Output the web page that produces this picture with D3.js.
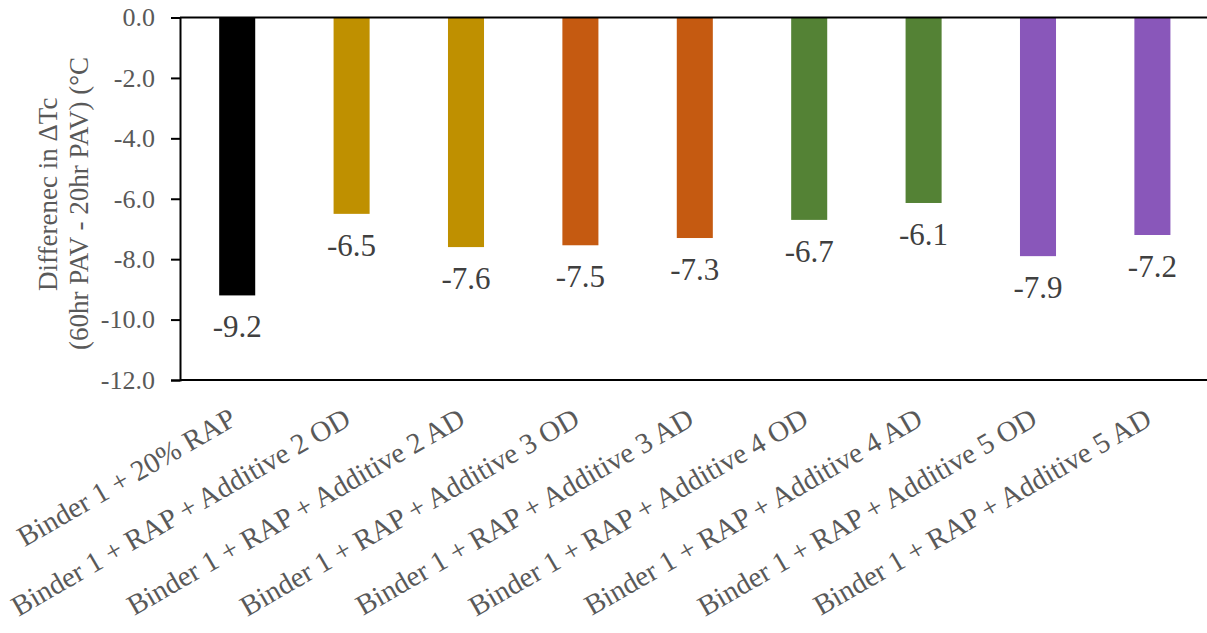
<!DOCTYPE html>
<html>
<head>
<meta charset="utf-8">
<script src="https://cdn.jsdelivr.net/npm/d3@7"></script>
<style>
  html, body { margin: 0; padding: 0; background: #fff; }
  svg { display: block; font-family: "Liberation Serif", "Times New Roman", serif; }
</style>
</head>
<body>
<svg id="chart" width="1207" height="633"></svg>
<script>
const categories = [
  "Binder 1 + 20% RAP",
  "Binder 1 + RAP + Additive 2 OD",
  "Binder 1 + RAP + Additive 2 AD",
  "Binder 1 + RAP + Additive 3 OD",
  "Binder 1 + RAP + Additive 3 AD",
  "Binder 1 + RAP + Additive 4 OD",
  "Binder 1 + RAP + Additive 4 AD",
  "Binder 1 + RAP + Additive 5 OD",
  "Binder 1 + RAP + Additive 5 AD"
];
const values = [-9.2, -6.5, -7.6, -7.54, -7.3, -6.7, -6.14, -7.9, -7.2];
const barColors = ["#000000", "#BF9000", "#BF9000", "#C55A11", "#C55A11", "#548235", "#548235", "#8957BA", "#8957BA"];
const yTicks = [0, -2, -4, -6, -8, -10, -12];
const yTitleLines = ["Differenec in \u0394Tc", "(60hr PAV - 20hr PAV) (\u00B0C"];

(function () {
const svg = d3.select("#chart");
const pLeft = 180, pTop = 17.5, pBottom = 380, pRight = 180 + 9 * 114.4;

const x = d3.scaleBand().domain(categories).range([pLeft, pRight])
  .paddingInner(0.685).paddingOuter(0.3425);
const y = d3.scaleLinear().domain([0, -12]).range([pTop, pBottom]);

// bars
svg.append("g").selectAll("rect").data(values).join("rect")
  .attr("x", (d, i) => x(categories[i]))
  .attr("width", x.bandwidth())
  .attr("y", y(0))
  .attr("height", d => y(d) - y(0))
  .attr("fill", (d, i) => barColors[i]);

// data labels
svg.append("g").selectAll("text").data(values).join("text")
  .attr("x", (d, i) => x(categories[i]) + x.bandwidth() / 2)
  .attr("y", d => y(d) + 42)
  .attr("text-anchor", "middle")
  .attr("font-size", 31)
  .attr("fill", "#404040")
  .text(d => d.toFixed(1));

// y axis
const yAxis = d3.axisLeft(y).tickValues(yTicks).tickSize(9).tickPadding(16)
  .tickFormat(d => d3.format(".1f")(d).replace("\u2212", "-"));
const ga = svg.append("g").attr("transform", `translate(${pLeft},0)`).call(yAxis);
ga.select(".domain").attr("stroke", "#000").attr("stroke-width", 2);
ga.selectAll(".tick line").attr("stroke", "#000").attr("stroke-width", 2);
ga.selectAll(".tick text").attr("font-size", 26).attr("fill", "#595959")
  .attr("font-family", "Liberation Serif, Times New Roman, serif");

// top (category axis at 0) and bottom frame lines
svg.append("line").attr("x1", pLeft).attr("x2", 1207).attr("y1", y(0)).attr("y2", y(0))
  .attr("stroke", "#000").attr("stroke-width", 2);
svg.append("line").attr("x1", pLeft).attr("x2", 1207).attr("y1", y(-12)).attr("y2", y(-12))
  .attr("stroke", "#000").attr("stroke-width", 2);

// category labels
svg.append("g").selectAll("text").data(categories).join("text")
  .attr("transform", d => `translate(${x(d) + x.bandwidth() / 2 + 1},424) rotate(-30)`)
  .attr("text-anchor", "end")
  .attr("font-size", 28.8)
  .attr("fill", "#595959")
  .text(d => d);

// y title
const titlePos = [[57, 291], [88, 350]];
svg.append("g").selectAll("text").data(yTitleLines).join("text")
  .attr("transform", (d, i) => `translate(${titlePos[i][0]},${titlePos[i][1]}) rotate(-90)`)
  .attr("text-anchor", "start")
  .attr("font-size", 27)
  .attr("fill", "#595959")
  .text(d => d);
})();
</script>
</body>
</html>
